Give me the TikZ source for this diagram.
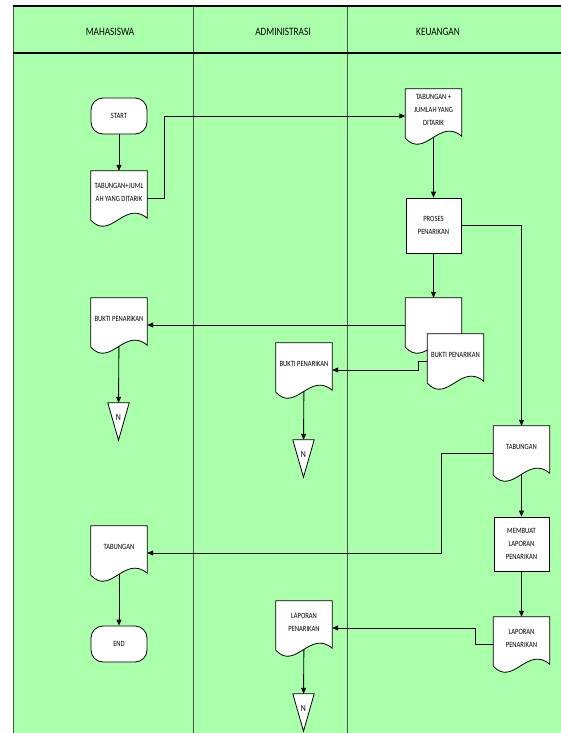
\documentclass[tikz,border=0pt]{standalone}
\usepackage{fontspec}
\setmainfont{Carlito}
\newfontfamily\narrowfont[FakeStretch=0.82]{Carlito}
\usetikzlibrary{positioning, calc, arrows.meta}
\definecolor{lanegreen}{RGB}{170,255,170}
\definecolor{laneline}{RGB}{80,80,80}
\pgfdeclarelayer{lanes}
\pgfdeclarelayer{lines}
\pgfdeclarelayer{shapes}
\pgfsetlayers{lanes,lines,shapes,main}

% outline of a document symbol with a wavy bottom
\newcommand{\docoutline}[1]{%
  \draw[fill=white, line width=0.8pt] (#1.north west) -- (#1.north east)
    -- ($(#1.south east)+(0,5)$)
    .. controls ($(#1.south west)!0.6!(#1.south east)+(0,-14)$)
    and ($(#1.south west)!0.35!(#1.south east)+(0,28)$) .. ($(#1.south west)+(0,7)$)
    -- cycle;}
% off-page connector (triangle)
\newcommand{\sinkoutline}[1]{%
  \draw[fill=white, line width=0.8pt] (#1.north west) -- (#1.north east)
    -- ($(#1.south)+(0,9)$) -- cycle;}

\begin{document}
\begin{tikzpicture}[x=1pt, y=-1pt,
  every node/.style={font=\narrowfont\fontsize{8}{13}\selectfont},
  term/.style={draw, fill=white, line width=0.8pt, rounded corners=12pt,
    minimum width=56pt, minimum height=36pt},
  box/.style={draw, fill=white, line width=0.8pt, align=center,
    minimum width=55pt, minimum height=55pt},
  doc/.style={minimum width=56pt, minimum height=42pt, inner sep=1pt, align=center},
  sink/.style={minimum width=21pt, minimum height=28pt, inner sep=0pt,
    font=\narrowfont\fontsize{9.5}{10}\selectfont},
  lanehead/.style={font=\narrowfont\fontsize{11.3}{13}\selectfont},
  flow/.style={line width=0.9pt, -{Triangle[length=6pt, width=5pt]}}]
  \useasboundingbox (0,0) rectangle (561,733);

  % swimlanes
  \begin{pgfonlayer}{lanes}
    \fill[lanegreen] (13,6) rectangle (561,733);
    \foreach \x in {13,193,347}
      \draw[laneline, line width=0.8pt] (\x,6) -- (\x,733);
    \draw[line width=1.4pt] (13,6) -- (561,6);
    \draw[line width=1.4pt] (13,53) -- (561,53);
  \end{pgfonlayer}
  \node[lanehead] (hMhs) at (110,32) {MAHASISWA};
  \node[lanehead] (hAdm) at (283,32) {ADMINISTRASI};
  \node[lanehead] (hKeu) at (438,32) {KEUANGAN};

  % mahasiswa
  \node[term] (start) at (119,116) {START};
  \node[doc] (tarik) at (119,192) {TABUNGAN+JUML\\AH YANG DITARIK};
  \node[doc] (bukti) at (119,319) {BUKTI PENARIKAN};
  \node[sink] (nA) at (118.5,417) {N};
  \node[doc] (tabung) at (119,547) {TABUNGAN};
  \node[term] (stop) at (119,644) {END};

  % administrasi
  \node[doc] (admBukti) at (304,364) {BUKTI PENARIKAN};
  \node[sink] (nB) at (303.5,454) {N};
  \node[doc] (admLapor) at (304,622) {LAPORAN\\PENARIKAN};
  \node[sink] (nC) at (303.5,708) {N};

  % keuangan
  \node[doc] (kTarik) at (433.5,110) {TABUNGAN +\\JUMLAH YANG\\DITARIK};
  \node[box] (proses) at (433.5,225.5) {PROSES\\PENARIKAN};
  \node[doc] (salinan) at (433.5,319) {};
  \node[doc] (kBukti) at (455.5,355) {BUKTI PENARIKAN};
  \node[doc] (kTabung) at (521.5,447) {TABUNGAN};
  \node[box, minimum height=54pt] (buat) at (521.5,544) {MEMBUAT\\LAPORAN\\PENARIKAN};
  \node[doc] (kLapor) at (521.5,638) {LAPORAN\\PENARIKAN};

  \begin{pgfonlayer}{shapes}
    \foreach \d in {tarik, bukti, tabung, admBukti, admLapor,
                    kTarik, salinan, kBukti, kTabung, kLapor}
      {\docoutline{\d}}
    \foreach \s in {nA, nB, nC}
      {\sinkoutline{\s}}
  \end{pgfonlayer}

  % connectors
  \begin{pgfonlayer}{lines}
    \draw[flow] (start) -- (tarik);
    \draw[flow] ([yshift=-6pt]tarik.east) -- ++(17,0) |- ([yshift=-6pt]kTarik.west);
    \draw[flow] (kTarik) -- (proses);
    \draw[flow] (proses.east) -| (kTabung.north);
    \draw[flow] (proses) -- (salinan);
    \draw[flow] ([yshift=-6pt]salinan.west) -- ([yshift=-6pt]bukti.east);
    \draw[flow] ([yshift=-6pt]kBukti.west) -- ++(-9,0) |- ([yshift=-6pt]admBukti.east);
    \draw[flow] (bukti) -- (nA);
    \draw[flow] (admBukti) -- (nB);
    \draw[flow] ([yshift=-6pt]kTabung.west) -- ++(-52,0) |- ([yshift=-6pt]tabung.east);
    \draw[flow] (tabung) -- (stop);
    \draw[flow] (kTabung) -- (buat);
    \draw[flow] (buat) -- (kLapor);
    \draw[flow] ([yshift=-6pt]kLapor.west) -- ++(-18,0) |- ([yshift=-6pt]admLapor.east);
    \draw[flow] (admLapor) -- (nC);
  \end{pgfonlayer}
\end{tikzpicture}
\end{document}
